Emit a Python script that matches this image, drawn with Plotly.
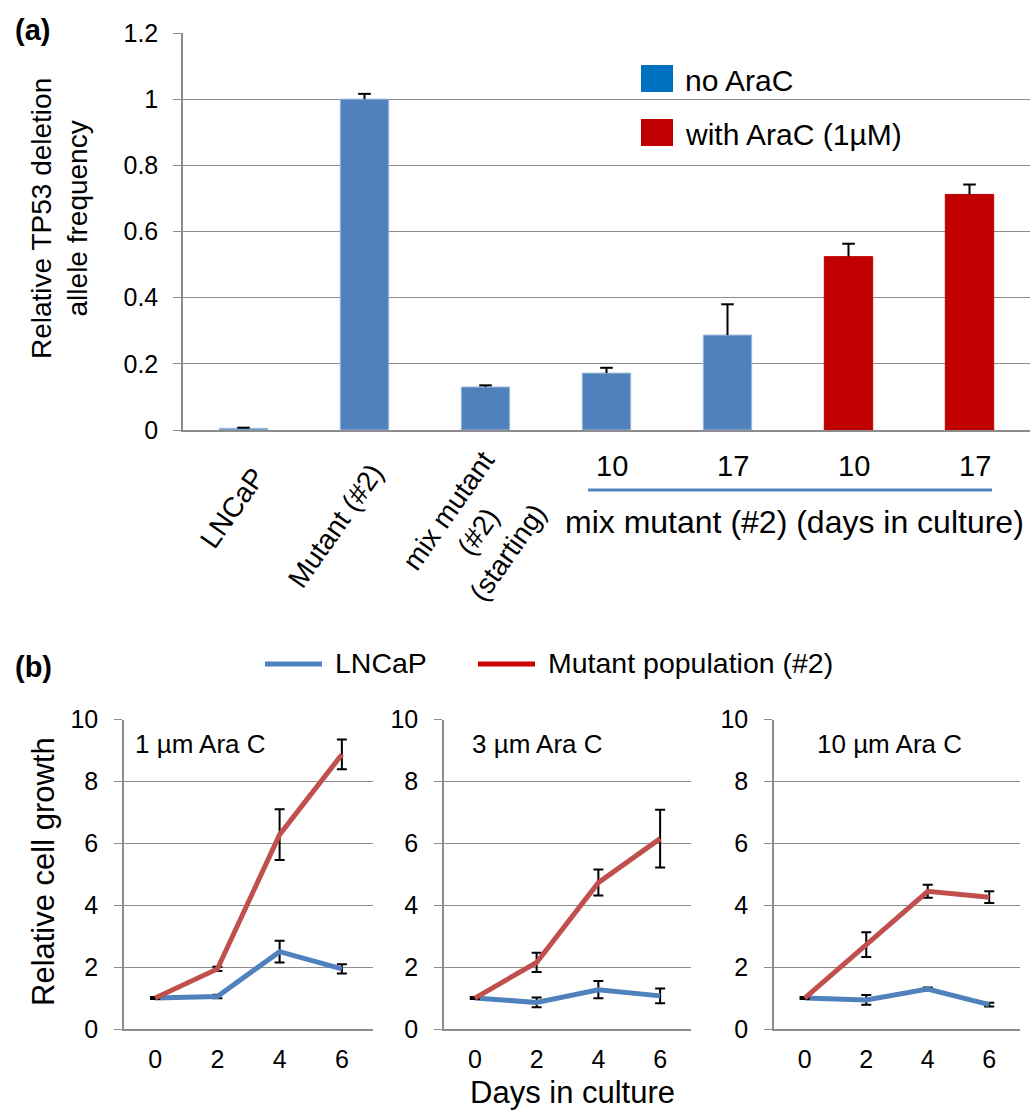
import plotly.graph_objects as go

W, H = 1030, 1110
FONT = "Liberation Sans, Arial, sans-serif"

# ---------------- Panel (a) data ----------------
labels_a = ["LNCaP", "Mutant (#2)", "mix mutant<br>(#2)<br>(starting)", "10", "17", "10", "17"]
values_a = [0.005, 1.0, 0.13, 0.172, 0.287, 0.524, 0.712]
errors_a = [0.002, 0.016, 0.005, 0.016, 0.093, 0.039, 0.030]
treat_a = ["none", "none", "none", "none", "none", "arac", "arac"]
legend_a = ["no AraC", "with AraC (1µM)"]
group_label_a = "mix mutant (#2) (days in culture)"

# ---------------- Panel (b) data ----------------
days = [0, 2, 4, 6]
panel_titles = ["1 µm Ara C", "3 µm Ara C", "10 µm Ara C"]
lncap = [[1.0, 1.05, 2.5, 1.94], [1.0, 0.86, 1.27, 1.07], [1.0, 0.94, 1.29, 0.79]]
lncap_err = [[0.03, 0.06, 0.35, 0.15], [0.03, 0.16, 0.28, 0.24], [0.03, 0.16, 0.05, 0.06]]
mutant = [[1.0, 1.94, 6.28, 8.87], [1.0, 2.15, 4.73, 6.15], [1.0, 2.73, 4.45, 4.26]]
mutant_err = [[0.03, 0.07, 0.82, 0.48], [0.03, 0.31, 0.42, 0.93], [0.03, 0.40, 0.21, 0.19]]
legend_b = ["LNCaP", "Mutant population (#2)"]


def px(x):
    return x / W


def py(y):
    return 1 - y / H


GRID = "#8c8c8c"
BLUE_BAR = "#4F81BD"
RED_BAR = "#C00000"
BLUE_LINE = "#4F81BD"
RED_LINE = "#C0504D"

fig = go.Figure()

# ---- Panel (a) bars ----
xa = list(range(len(values_a)))
bar_colors = [BLUE_BAR if t == "none" else RED_BAR for t in treat_a]
line_colors = ["#9DB9DE" if t == "none" else RED_BAR for t in treat_a]
fig.add_trace(go.Bar(
    x=xa, y=values_a, width=0.4,
    marker=dict(color=bar_colors, line=dict(color=line_colors, width=1)),
    error_y=dict(type="data", symmetric=False, array=errors_a,
                 arrayminus=[0] * len(errors_a), width=0, thickness=2, color="black"),
    showlegend=False, xaxis="x", yaxis="y", hoverinfo="skip",
))
# caps of error bars (top only, as in the original)
fig.add_trace(go.Scatter(
    x=xa, y=[v + e for v, e in zip(values_a, errors_a)], mode="markers",
    marker=dict(symbol="line-ew", size=9, line=dict(color="black", width=2)),
    showlegend=False, xaxis="x", yaxis="y", hoverinfo="skip",
))

# ---- Panel (b) lines ----
axis_ids = [("x2", "y2"), ("x3", "y3"), ("x4", "y4")]
for i, (xr, yr) in enumerate(axis_ids):
    fig.add_trace(go.Scatter(
        x=days, y=lncap[i], mode="lines", line=dict(color=BLUE_LINE, width=5),
        error_y=dict(type="data", array=lncap_err[i], width=5, thickness=2, color="black"),
        showlegend=False, xaxis=xr, yaxis=yr, hoverinfo="skip",
    ))
    fig.add_trace(go.Scatter(
        x=days, y=mutant[i], mode="lines", line=dict(color=RED_LINE, width=5),
        error_y=dict(type="data", array=mutant_err[i], width=5, thickness=2, color="black"),
        showlegend=False, xaxis=xr, yaxis=yr, hoverinfo="skip",
    ))

ydom_b = [py(1029), py(719.5)]
xdoms_b = [[px(124), px(373)], [px(444), px(691)], [px(774), px(1020)]]

layout = dict(
    width=W, height=H, margin=dict(l=0, r=0, t=0, b=0, autoexpand=False),
    paper_bgcolor="white", plot_bgcolor="white",
    font=dict(family=FONT, color="black"),
    xaxis=dict(domain=[px(183), 1.0], range=[-0.5, 6.5], showgrid=False, zeroline=False,
               showline=True, linecolor=GRID, linewidth=1.5, showticklabels=False,
               ticks="", anchor="y", fixedrange=True, automargin=False),
    yaxis=dict(domain=[py(430), py(33)], range=[0, 1.2], dtick=0.2, showgrid=True,
               gridcolor=GRID, gridwidth=1.3, zeroline=False, showline=True, linecolor=GRID,
               linewidth=1.5, ticks="outside", ticklen=8, tickcolor=GRID, tickwidth=1.3,
               tickfont=dict(size=25, family=FONT, color="black"), ticklabelstandoff=10,
               tickvals=[0, 0.2, 0.4, 0.6, 0.8, 1.0, 1.2],
               ticktext=["0", "0.2", "0.4", "0.6", "0.8", "1", "1.2"],
               anchor="x", fixedrange=True, automargin=False),
)
for i, (xr, yr) in enumerate(axis_ids):
    xk = "xaxis" + xr[1:]
    yk = "yaxis" + yr[1:]
    layout[xk] = dict(domain=xdoms_b[i], range=[-1, 7], tickvals=days, showgrid=False,
                      zeroline=False, showline=True, linecolor=GRID, linewidth=1.5,
                      ticks="", tickfont=dict(size=25, family=FONT, color="black"),
                      ticklabelstandoff=7, anchor=yr, fixedrange=True, automargin=False)
    layout[yk] = dict(domain=ydom_b, range=[0, 10], dtick=2, showgrid=True, gridcolor=GRID,
                      gridwidth=1.3, zeroline=False, showline=True, linecolor=GRID,
                      linewidth=1.5, ticks="outside", ticklen=8, tickcolor=GRID, tickwidth=1.3,
                      tickfont=dict(size=25, family=FONT, color="black"),
                      ticklabelstandoff=11, anchor=xr, fixedrange=True, automargin=False)
fig.update_layout(**layout)

ann = []
shapes = []


def note(text, x, y, size, xanchor="center", yanchor="middle", xref="paper", **kw):
    d = dict(text=text, x=x, y=y, xref=xref, yref="paper", showarrow=False,
             xanchor=xanchor, yanchor=yanchor, font=dict(size=size, family=FONT, color="black"))
    d.update(kw)
    ann.append(d)


# panel letters
note("<b>(a)</b>", px(32), py(30), 29)
note("<b>(b)</b>", px(33), py(667), 29)

# axis titles
note("Relative TP53 deletion<br>allele frequency", px(60), py(219), 28, textangle=-90)
note("Relative cell growth", px(43), py(872), 31, textangle=-90)
note("Days in culture", px(572), py(1092), 31)

# rotated category labels (panel a)
rot_centers = [(232, 508), (335, 526), (478, 532)]
for lab, (cx, cy) in zip(labels_a[:3], rot_centers):
    note(lab, px(cx), py(cy), 28, textangle=-55, align="center")
# day labels (panel a)
for i in range(3, len(labels_a)):
    note(labels_a[i], xa[i], py(465.5), 29, xref="x", xshift=5)
note(group_label_a, px(794), py(522), 32)
shapes.append(dict(type="line", xref="paper", yref="paper", x0=px(588), x1=px(992),
                   y0=py(490), y1=py(490), line=dict(color=BLUE_LINE, width=3)))

# legend panel (a)
sw = [("#0070C0", 65, 92, 80), (RED_BAR, 119, 146, 135)]
for (col, y0, y1, ty), lab in zip(sw, legend_a):
    shapes.append(dict(type="rect", xref="paper", yref="paper", x0=px(641), x1=px(673),
                       y0=py(y1), y1=py(y0), fillcolor=col, line=dict(width=0)))
    note(lab, px(683), py(ty), 30, xanchor="left")

# legend panel (b)
for (x0, x1, tx, col), lab in zip([(265, 322, 333, BLUE_LINE), (478, 535, 546, "#CC0000")], legend_b):
    shapes.append(dict(type="line", xref="paper", yref="paper", x0=px(x0), x1=px(x1),
                       y0=py(664), y1=py(664), line=dict(color=col, width=5)))
    note(lab, px(tx), py(663), 28.5, xanchor="left")

# panel titles (b)
for t, lx in zip(panel_titles, [133, 470, 815]):
    note(t, px(lx), py(744), 26, xanchor="left")

fig.update_layout(annotations=ann, shapes=shapes)
fig.write_html("out.html")
